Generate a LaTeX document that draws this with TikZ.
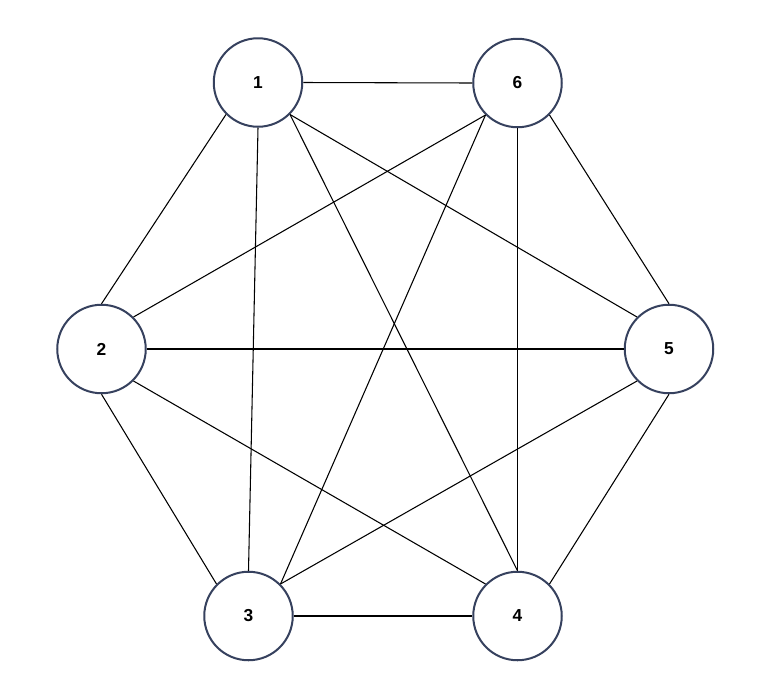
\documentclass[tikz,border=0pt]{standalone}
\usepackage{fontspec}
\setmainfont{Liberation Sans}
\definecolor{ringcol}{HTML}{36415E}
\begin{document}
\begin{tikzpicture}[x=0.75pt,y=-0.75pt,
  vert/.style={circle,draw=ringcol,line width=1.5pt,fill=white,minimum size=88.5*0.75pt,inner sep=0pt,font=\fontsize{13}{15}\selectfont\bfseries},
  edge/.style={draw=black,line width=0.8pt}]
\useasboundingbox (0,0) rectangle (767,679);
\node[vert] (n1) at (258,82.5) {1};
\node[vert] (n6) at (517.5,83) {6};
\node[vert] (n2) at (101.5,349) {2};
\node[vert] (n5) at (669,349) {5};
\node[vert] (n3) at (248.5,616) {3};
\node[vert] (n4) at (517.5,616) {4};
\foreach \a/\b in {n1.east/n6.west, n1.south west/n2.north, n1.south/n3.north,
  n1.south east/n4.north, n1.south east/n5.north west,
  n6.south west/n2.north east, n6.south west/n3.north east, n6.south/n4.north, n6.south east/n5.north,
  n2.east/n5.west, n2.south/n3.north west, n2.south east/n4.north west,
  n3.east/n4.west, n3.north east/n5.south west, n4.north east/n5.south}
  \draw[edge] (\a) -- (\b);
\end{tikzpicture}
\end{document}
